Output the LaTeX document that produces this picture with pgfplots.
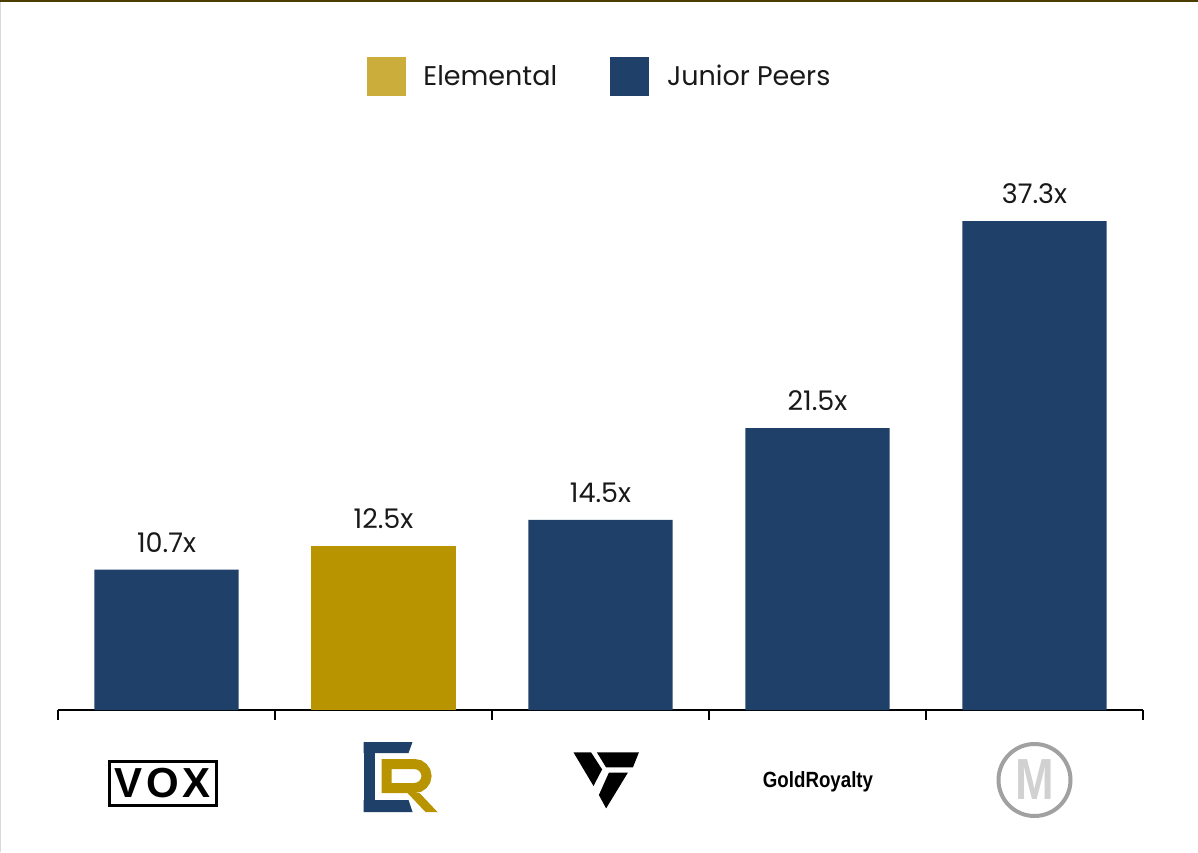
\documentclass[border=0pt]{standalone}
\usepackage{pgfplots}
\pgfplotsset{compat=1.18}
\usepackage{fontspec}
\setmainfont{Poppins}
\newfontfamily\logofont{Liberation Sans}
\definecolor{navy}{HTML}{1F4169}
\definecolor{goldbar}{HTML}{B89500}
\definecolor{goldleg}{HTML}{CBAD3C}
\definecolor{topline}{HTML}{4B3D00}

\begin{document}
\begin{tikzpicture}
\useasboundingbox (-29pt,-71pt) rectangle (570pt,355pt);
\fill[white] (-29pt,-71pt) rectangle (570pt,355pt);
\fill[topline] (-29pt,354pt) rectangle (570pt,355pt);
\draw[black!15, line width=0.5pt] (-28.75pt,-71pt) -- (-28.75pt,354pt);

\begin{axis}[
  scale only axis, width=542.5pt, height=262.2pt,
  xmin=-0.5, xmax=4.5, ymin=0, ymax=40,
  axis y line=none, axis x line*=bottom,
  x axis line style={line width=1pt, black},
  xtick={-0.5,0.5,...,4.5}, xticklabels={},
  major tick length=5pt, tick style={line width=1pt, black}, tick align=outside,
  /pgf/number format/assume math mode=true,
  ybar, bar width=0.664, bar shift=0pt,
  nodes near coords={\pgfmathprintnumber[fixed,precision=1,fixed zerofill]{\pgfplotspointmeta}x},
  nodes near coords style={font=\fontsize{13.5}{13.5}\selectfont, anchor=south, inner sep=0pt, yshift=8.5pt, text=black!90},
  legend style={at={(axis description cs:0.5,1.208)}, anchor=center, draw=none,
    font=\fontsize{13.5}{13.5}\selectfont, text=black!90,
    /tikz/every odd column/.append style={column sep=7pt},
    /tikz/every even column/.append style={column sep=24.5pt}},
  legend columns=2,
  clip=false,
]
\addplot[fill=navy, draw=none, forget plot] coordinates {(0,10.7) (2,14.5) (3,21.5) (4,37.3)};
\addplot[fill=goldbar, draw=none, forget plot] coordinates {(1,12.5)};
\addlegendimage{legend image code/.code={\fill[goldleg] (0pt,-9.5pt) rectangle (19pt,9.5pt);}}
\addlegendentry{Elemental}
\addlegendimage{legend image code/.code={\fill[navy] (0pt,-9.5pt) rectangle (19pt,9.5pt);}}
\addlegendentry{Junior Peers}
\coordinate (c0) at (axis cs:0,0);
\coordinate (c1) at (axis cs:1,0);
\coordinate (c2) at (axis cs:2,0);
\coordinate (c3) at (axis cs:3,0);
\coordinate (c4) at (axis cs:4,0);
\end{axis}

% VOX
\node[draw=black, line width=1.5pt, minimum width=53.5pt, minimum height=22pt, inner sep=0pt,
  font=\logofont\bfseries\fontsize{21}{21}\selectfont] at ([shift={(-2pt,-36.75pt)}]c0) {V\kern2pt O\kern2pt X};

% ER
\begin{scope}[shift={(c1)}]
  \fill[navy] (-10pt,-16pt) rectangle (-4.5pt,-51pt);
  \fill[navy] (-10pt,-16pt) -- (14.5pt,-16pt) -- (12.5pt,-21.5pt) -- (-10pt,-21.5pt) -- cycle;
  \fill[navy] (-10pt,-45pt) -- (12.5pt,-45pt) -- (14.5pt,-51pt) -- (-10pt,-51pt) -- cycle;
  \draw[goldbar, line width=5pt] (1.5pt,-41.5pt) -- (1.5pt,-27pt) -- (15.5pt,-27pt)
     arc[start angle=90, end angle=-90, radius=6pt] -- (1.5pt,-39pt);
  \fill[goldbar] (12pt,-41.5pt) -- (18pt,-41.5pt) -- (27pt,-51pt) -- (21pt,-51pt) -- cycle;
\end{scope}

% V logo
\begin{scope}[shift={(c2)}]
  \fill[black] (-13.5pt,-21.2pt) -- (-4.7pt,-21.2pt) -- (0.8pt,-29.7pt) -- (-3.5pt,-38pt) -- cycle;
  \fill[black] (-1.8pt,-21.2pt) -- (19.2pt,-21.2pt) -- (16.2pt,-28.7pt) -- (2.8pt,-28.7pt) -- cycle;
  \fill[black] (4.2pt,-31.3pt) -- (13.7pt,-31.3pt) -- (2.8pt,-49.2pt) -- (-0.8pt,-42.5pt) -- cycle;
\end{scope}

% GoldRoyalty
\node[font=\logofont\bfseries\fontsize{11}{11}\selectfont, xscale=0.85, inner sep=0pt]
  at ([shift={(0.25pt,-36pt)}]c3) {GoldRoyalty};

% M logo
\draw[black!37, line width=2pt] ([shift={(0pt,-35pt)}]c4) circle[radius=18pt];
\node[font=\logofont\bfseries\fontsize{29}{29}\selectfont, text=black!18, xscale=0.8, inner sep=0pt]
  at ([shift={(0pt,-35pt)}]c4) {M};
\end{tikzpicture}
\end{document}
